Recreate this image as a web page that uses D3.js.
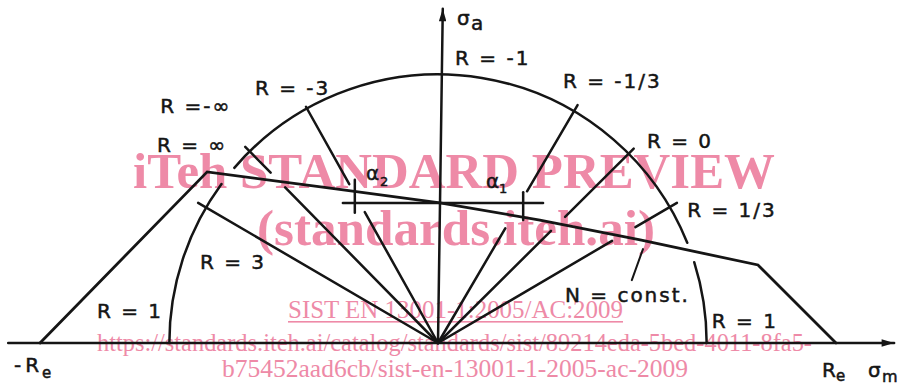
<!DOCTYPE html>
<html>
<head>
<meta charset="utf-8">
<script src="https://cdn.jsdelivr.net/npm/d3@7"></script>
<style>
body{margin:0;background:#fff}
svg{display:block}
</style>
</head>
<body>
<div id="chartDiv"></div>
<script>
// limit curve for N = const. (sigma_m, sigma_a in units of Re)
var limitM = [-1, -0.580, -0.271, 0.005, 0.256, 0.508, 0.804, 1];
var limitA = [0, 0.430, 0.389, 0.352, 0.309, 0.259, 0.196, 0];

// rays R = sigma_min / sigma_max, angle from the sigma_m axis (deg)
var rayNames = ["R = 1/3", "R = 0", "R = -1/3", "R = -3", "R = \u221e", "R = 3"];
var rayAngles = [30.4, 44.8, 59.6, 119.2, 134.5, 149.7];
var raySegments = [
    [[0, 0.507], [0.575, 0.696]],
    [[0, 0.400], [0.450, 0.693]],
    [[0, 0.334], [0.442, 0.693]],
    [[0, 0.377], [0.457, 0.680]],
    [[0, 0.548], [0.600, 0.691]],
    [[0, 0.698]]
];

var circleRadius = 0.675;
var arcPieces = [[0, 17.5], [21.9, 139.3], [143.7, 180]];

// alpha construction
var alphaLevel = 0.352;
var alphaFrom = -0.239, alphaTo = 0.264;
var alphaTickM = [-0.209, 0.214];
var alphaTickA = [[0.327, 0.410], [0.309, 0.379]];

var labelTexts = ["R = -1", "R = -1/3", "R = 0", "R = 1/3", "N = const.", "R = 1", "R = 1", "R = 3", "R = -3", "R =-\u221e", "R = \u221e"];
var labelM = [0.043, 0.314, 0.525, 0.626, 0.319, 0.688, -0.857, -0.598, -0.460, -0.698, -0.706];
var labelA = [0.698, 0.641, 0.490, 0.317, 0.103, 0.038, 0.063, 0.186, 0.623, 0.578, 0.480];

var leaderM = [0.487, 0.515];
var leaderA = [0.158, 0.236];

var W = 906, H = 389;
var ink = "#151515", pink = "#ee8aa7";

var svg = d3.select("#chartDiv")
    .append("svg")
    .attr("width", W)
    .attr("height", H);

var x = d3.scaleLinear().domain([-1, 1]).range([40, 836]);
var y = d3.scaleLinear().domain([0, 1]).range([343, -55]);
var k = x(1) - x(0);

// watermark (under the drawing)
var wm = svg.append("g").attr("fill", pink).style("font-family", "'Liberation Serif', 'Times New Roman', serif");
wm.append("text").attr("x", 133).attr("y", 188).attr("font-size", 50).attr("font-weight", "bold")
    .attr("textLength", 642).attr("lengthAdjust", "spacingAndGlyphs").text("iTeh STANDARD PREVIEW");
wm.append("text").attr("x", 257).attr("y", 245).attr("font-size", 50).attr("font-weight", "bold")
    .attr("textLength", 398).attr("lengthAdjust", "spacingAndGlyphs").text("(standards.iteh.ai)");
wm.append("text").attr("x", 288).attr("y", 318).attr("font-size", 25)
    .attr("textLength", 335).attr("lengthAdjust", "spacingAndGlyphs").text("SIST EN 13001-1:2005/AC:2009");
wm.append("rect").attr("x", 288).attr("y", 321).attr("width", 335).attr("height", 1.6);
wm.append("text").attr("x", 97).attr("y", 351).attr("font-size", 25)
    .attr("textLength", 715).attr("lengthAdjust", "spacingAndGlyphs")
    .text("https://standards.iteh.ai/catalog/standards/sist/89214eda-5bed-4011-8fa5-");
wm.append("text").attr("x", 222).attr("y", 377).attr("font-size", 25)
    .attr("textLength", 466).attr("lengthAdjust", "spacingAndGlyphs")
    .text("b75452aad6cb/sist-en-13001-1-2005-ac-2009");

var g = svg.append("g")
    .attr("fill", "none")
    .attr("stroke", ink)
    .attr("stroke-width", 2.5)
    .attr("stroke-linecap", "round");

// arrow heads
var defs = svg.append("defs");
defs.append("marker")
    .attr("id", "arr")
    .attr("viewBox", "0 0 10 6")
    .attr("refX", 10).attr("refY", 3)
    .attr("markerWidth", 8).attr("markerHeight", 3)
    .attr("markerUnits", "strokeWidth")
    .attr("orient", "auto")
    .append("path").attr("d", "M0,0L10,3L0,6Z").attr("fill", ink).attr("stroke", "none");

// axes
g.append("line")
    .attr("x1", x(-1.08)).attr("y1", y(0))
    .attr("x2", x(1.146)).attr("y2", y(0))
    .attr("marker-end", "url(#arr)");
g.append("line")
    .attr("x1", x(0)).attr("y1", y(0))
    .attr("x2", x(0.012)).attr("y2", y(0.84))
    .attr("marker-end", "url(#arr)");

// circle arcs
arcPieces.forEach(function(p) {
    var path = d3.path();
    path.arc(x(0), y(0), circleRadius * k, -p[0] * Math.PI / 180, -p[1] * Math.PI / 180, true);
    g.append("path").attr("d", path.toString());
});

// rays
rayAngles.forEach(function(a, i) {
    var t = a * Math.PI / 180;
    raySegments[i].forEach(function(s) {
        g.append("line")
            .attr("x1", x(s[0] * Math.cos(t))).attr("y1", y(s[0] * Math.sin(t)))
            .attr("x2", x(s[1] * Math.cos(t))).attr("y2", y(s[1] * Math.sin(t)));
    });
});

// limit curve
var limitData = limitM.map(function(m, i) { return [m, limitA[i]]; });
g.append("path")
    .attr("d", d3.line().x(function(d) { return x(d[0]); }).y(function(d) { return y(d[1]); })(limitData))
    .attr("stroke-width", 2.8);

// alpha construction
g.append("line")
    .attr("x1", x(alphaFrom)).attr("y1", y(alphaLevel))
    .attr("x2", x(alphaTo)).attr("y2", y(alphaLevel));
alphaTickM.forEach(function(m, i) {
    g.append("line")
        .attr("x1", x(m)).attr("y1", y(alphaTickA[i][0]))
        .attr("x2", x(m)).attr("y2", y(alphaTickA[i][1]));
});

// leader of N = const.
g.append("line")
    .attr("x1", x(leaderM[0])).attr("y1", y(leaderA[0]))
    .attr("x2", x(leaderM[1])).attr("y2", y(leaderA[1]))
    .attr("stroke-width", 2);

// labels
var lab = svg.append("g")
    .attr("fill", ink)
    .attr("stroke", ink)
    .attr("stroke-width", 0.5)
    .style("font-family", "'DejaVu Sans', sans-serif")
    .attr("font-size", 20)
    .attr("letter-spacing", 2);

lab.selectAll("text.r")
    .data(labelTexts)
    .enter().append("text")
    .attr("class", "r")
    .attr("x", function(d, i) { return x(labelM[i]); })
    .attr("y", function(d, i) { return y(labelA[i]); })
    .text(function(d) { return d; });

lab.append("text").attr("x", 457).attr("y", 25).attr("letter-spacing", 0).text("\u03c3");
lab.append("text").attr("x", 471).attr("y", 30).attr("letter-spacing", 0).text("a");
lab.append("text").attr("x", 14).attr("y", 372).attr("letter-spacing", 4).text("-R");
lab.append("text").attr("x", 42).attr("y", 378).attr("font-size", 15).text("e");
lab.append("text").attr("x", 822).attr("y", 377).text("R");
lab.append("text").attr("x", 836).attr("y", 381).attr("font-size", 15).text("e");
lab.append("text").attr("x", 868).attr("y", 377).text("\u03c3");
lab.append("text").attr("x", 882).attr("y", 382).attr("font-size", 16).attr("letter-spacing", 0).text("m");
lab.append("text").attr("x", 366).attr("y", 180).attr("letter-spacing", 0).text("\u03b1");
lab.append("text").attr("x", 380).attr("y", 186).attr("font-size", 13).text("2");
lab.append("text").attr("x", 486).attr("y", 188).attr("letter-spacing", 0).text("\u03b1");
lab.append("text").attr("x", 499).attr("y", 193).attr("font-size", 13).text("1");
</script>
</body>
</html>
